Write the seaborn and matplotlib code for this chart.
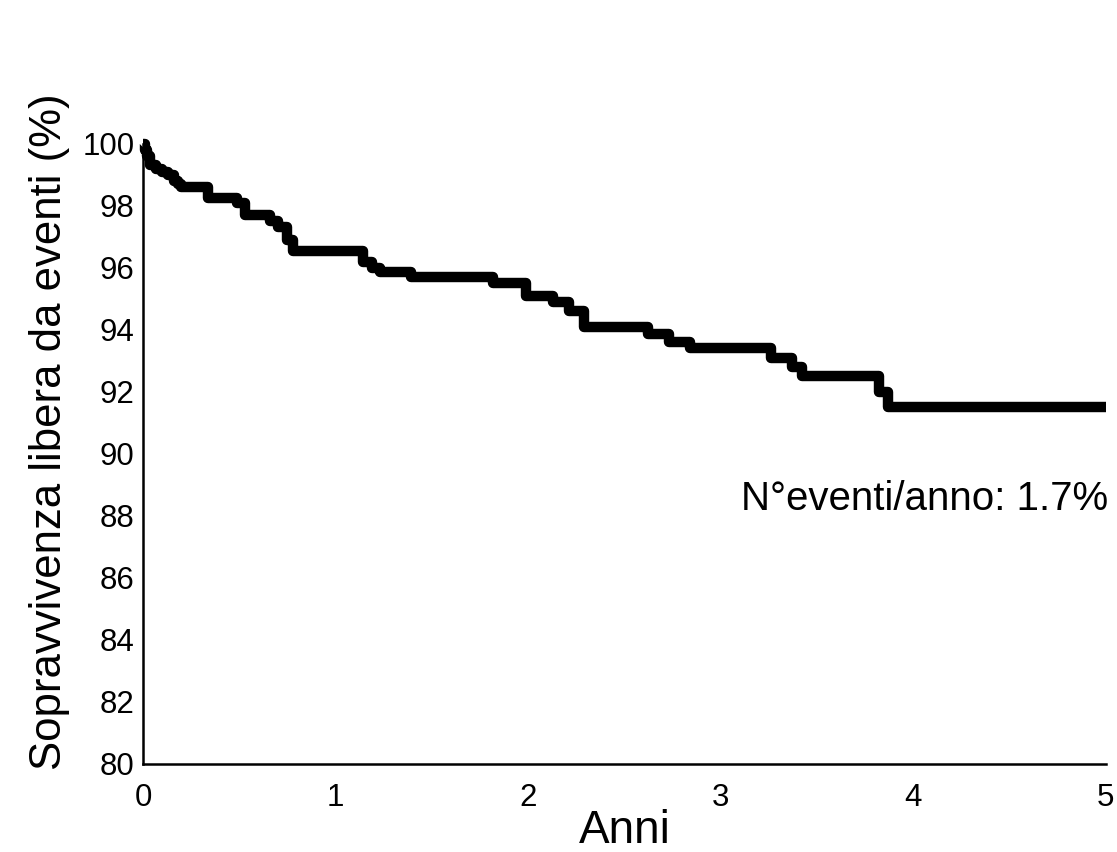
import matplotlib
matplotlib.use("Agg")
import matplotlib.pyplot as plt
import seaborn as sns
import pandas as pd

# Kaplan-Meier style step data
anni = [0.0, 0.01, 0.02, 0.035, 0.07, 0.10, 0.13, 0.16, 0.18, 0.20,
        0.34, 0.49, 0.53, 0.66, 0.70, 0.75, 0.78, 1.14, 1.19, 1.23,
        1.39, 1.82, 1.99, 2.13, 2.21, 2.29, 2.62, 2.73, 2.84, 3.26,
        3.37, 3.42, 3.82, 3.87, 5.0]
sopravvivenza = [100.0, 99.8, 99.6, 99.3, 99.2, 99.1, 99.0, 98.8, 98.7, 98.6,
                 98.25, 98.1, 97.7, 97.5, 97.3, 96.9, 96.55, 96.2, 96.0, 95.85,
                 95.7, 95.5, 95.1, 94.9, 94.6, 94.1, 93.85, 93.6, 93.4, 93.1,
                 92.8, 92.5, 92.0, 91.5, 91.5]

x_ticks = [0, 1, 2, 3, 4, 5]
y_ticks = list(range(80, 101, 2))

df = pd.DataFrame({"anni": anni, "sopravvivenza": sopravvivenza})

sns.set_style("white")
plt.rcParams["font.family"] = ["Liberation Sans", "DejaVu Sans"]
plt.rcParams["text.color"] = "black"
plt.rcParams["axes.labelcolor"] = "black"
plt.rcParams["xtick.color"] = "black"
plt.rcParams["ytick.color"] = "black"

fig = plt.figure(figsize=(11.17, 8.52), dpi=100)
ax = fig.add_axes([0.128, 0.1033, 0.862, 0.728])

sns.lineplot(data=df, x="anni", y="sopravvivenza", ax=ax,
             color="black", linewidth=7.5, drawstyle="steps-post",
             estimator=None, sort=False, clip_on=False,
             solid_joinstyle="round", solid_capstyle="butt")

ax.set_xlim(0, 5)
ax.set_ylim(80, 100)
ax.set_xticks(x_ticks)
ax.set_yticks(y_ticks)
ax.tick_params(axis="both", labelsize=22.5, length=0)
ax.tick_params(axis="x", pad=14)
ax.tick_params(axis="y", pad=6)

sns.despine(ax=ax)
for s in ["left", "bottom"]:
    ax.spines[s].set_color("black")
    ax.spines[s].set_linewidth(1.8)

ax.set_xlabel("Anni", fontsize=33, labelpad=-3)
ax.set_ylabel("Sopravvivenza libera da eventi (%)", fontsize=31.5)
ax.yaxis.set_label_coords(-0.076, 0.535)

ax.text(5.01, 88.55, "N°eventi/anno: 1.7%", ha="right", va="center", fontsize=29)

fig.savefig("out.png", dpi=100)
